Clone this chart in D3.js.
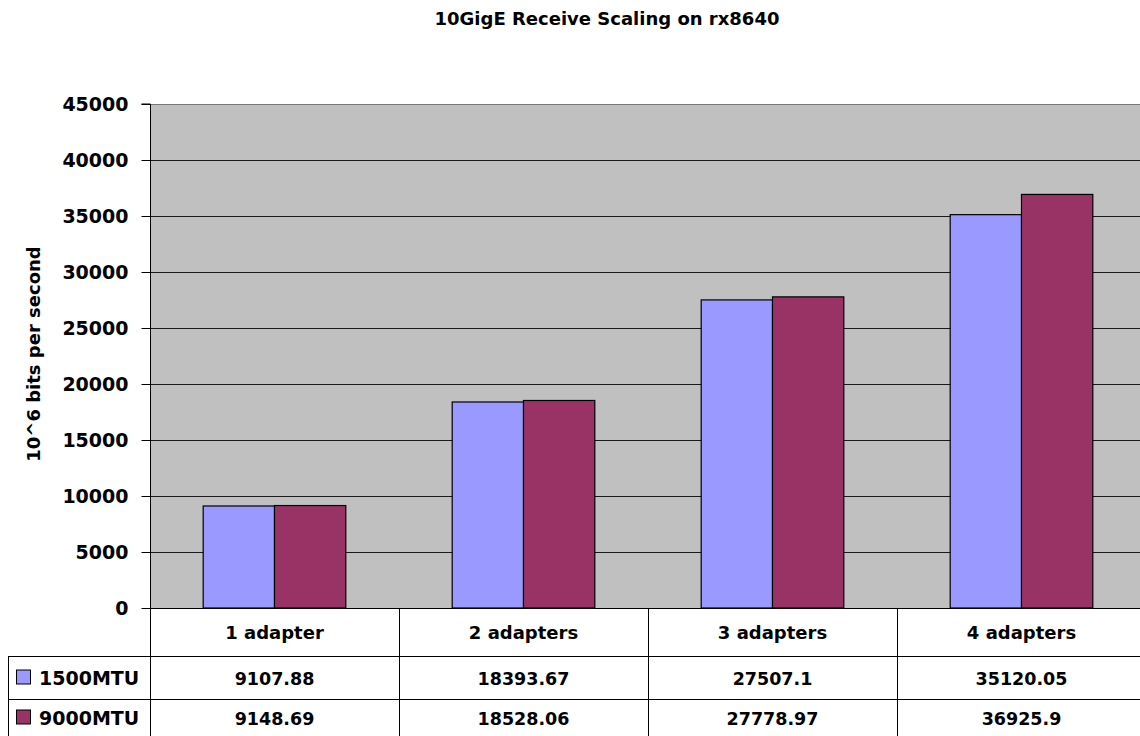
<!DOCTYPE html>
<html>
<head>
<meta charset="utf-8">
<script src="https://cdn.jsdelivr.net/npm/d3@7"></script>
<style>
  html, body { margin: 0; padding: 0; background: #fff; overflow: hidden; }
  svg { display: block; }
  text { font-family: "DejaVu Sans", sans-serif; font-weight: bold; fill: #000; }
</style>
</head>
<body>
<svg id="chart" width="1140" height="736"></svg>
<script>
const title = "10GigE Receive Scaling on rx8640";
const yAxisTitle = "10^6 bits per second";
const categories = ["1 adapter", "2 adapters", "3 adapters", "4 adapters"];
const seriesNames = ["1500MTU", "9000MTU"];
const mtu1500 = [9107.88, 18393.67, 27507.1, 35120.05];
const mtu9000 = [9148.69, 18528.06, 27778.97, 36925.9];
const valueLabels1500 = ["9107.88", "18393.67", "27507.1", "35120.05"];
const valueLabels9000 = ["9148.69", "18528.06", "27778.97", "36925.9"];
const yTicks = [0, 5000, 10000, 15000, 20000, 25000, 30000, 35000, 40000, 45000];
const seriesColors = ["#9999FF", "#993366"];

const svg = d3.select("#chart");
const W = 1140, H = 736;
// the plot runs a little past the right edge of the canvas
const plot = { left: 150, right: 1146, top: 104, bottom: 608 };
const FONT = "\"DejaVu Sans\", sans-serif";

const x = d3.scaleBand().domain(categories).range([plot.left, plot.right]);
const xs = d3.scaleBand().domain(seriesNames).range([0, x.bandwidth()]).paddingOuter(0.746).paddingInner(0);
const y = d3.scaleLinear().domain([0, 45000]).range([plot.bottom, plot.top]);

// Title
svg.append("text").attr("x", 607).attr("y", 25).attr("text-anchor", "middle")
  .style("font-size", "18px").text(title);

// Plot background
svg.append("rect").attr("x", plot.left).attr("y", plot.top)
  .attr("width", plot.right - plot.left).attr("height", plot.bottom - plot.top)
  .attr("fill", "#C0C0C0");

// Gridlines
svg.append("g").selectAll("line").data(yTicks.filter(d => d > 0)).join("line")
  .attr("x1", plot.left).attr("x2", plot.right)
  .attr("y1", d => Math.round(y(d)) + 0.5).attr("y2", d => Math.round(y(d)) + 0.5)
  .attr("stroke", d => d === 45000 ? "#777" : "#1a1a1a").attr("stroke-width", 1);

// Y axis
const yAxis = d3.axisLeft(y).tickValues(yTicks).tickSize(9).tickPadding(13).tickFormat(d3.format("d"));
const gy = svg.append("g").attr("transform", `translate(${plot.left + 0.5},0)`).call(yAxis);
gy.select(".domain").attr("stroke", "#000").attr("d", `M-9,${plot.top}H0V${plot.bottom}`);
gy.selectAll(".tick line").attr("stroke", "#000");
gy.selectAll(".tick text").style("font-size", "19px").style("font-family", FONT)
  .style("font-weight", "bold").attr("fill", "#000").attr("dy", "0.36em");

// Bars
const series = [mtu1500, mtu9000];
series.forEach((vals, si) => {
  svg.append("g").selectAll("rect").data(categories).join("rect")
    .attr("x", (c) => x(c) + xs(seriesNames[si]))
    .attr("y", (c, i) => y(vals[i]))
    .attr("width", xs.bandwidth())
    .attr("height", (c, i) => y(0) - y(vals[i]))
    .attr("fill", seriesColors[si])
    .attr("stroke", "#000").attr("stroke-width", 1.2);
});

// Axis title
svg.append("text").attr("transform", `translate(40,354) rotate(-90)`)
  .attr("text-anchor", "middle").style("font-size", "18px").text(yAxisTitle);

// Data table
const rowTops = [608, 656, 699, 736];
const tableLeft = 8;
const g = svg.append("g");
g.append("line").attr("x1", plot.left).attr("x2", plot.right).attr("y1", plot.bottom + 0.5).attr("y2", plot.bottom + 0.5).attr("stroke", "#000");
[rowTops[1], rowTops[2]].forEach(yy => {
  g.append("line").attr("x1", tableLeft).attr("x2", plot.right).attr("y1", yy + 0.5).attr("y2", yy + 0.5).attr("stroke", "#000");
});
g.append("line").attr("x1", tableLeft + 0.5).attr("x2", tableLeft + 0.5).attr("y1", rowTops[1]).attr("y2", H).attr("stroke", "#000");
categories.forEach(c => {
  const xx = Math.round(x(c)) + 0.5;
  g.append("line").attr("x1", xx).attr("x2", xx).attr("y1", plot.bottom).attr("y2", H).attr("stroke", "#000");
});
g.selectAll("text.cat").data(categories).join("text").attr("class", "cat")
  .attr("x", c => x(c) + x.bandwidth() / 2).attr("y", 639)
  .attr("text-anchor", "middle").style("font-size", "18px").text(c => c);
[valueLabels1500, valueLabels9000].forEach((labels, si) => {
  const cy = (rowTops[si + 1] + rowTops[si + 2]) / 2 + 7;
  g.selectAll(null).data(categories).join("text")
    .attr("x", c => x(c) + x.bandwidth() / 2).attr("y", cy)
    .attr("text-anchor", "middle").style("font-size", "17.5px").text((c, i) => labels[i]);
  g.append("rect").attr("x", 16.5).attr("y", cy - 14.5).attr("width", 14).attr("height", 14)
    .attr("fill", seriesColors[si]).attr("stroke", "#000").attr("stroke-width", 1);
  g.append("text").attr("x", 39).attr("y", cy).style("font-size", "19px").text(seriesNames[si]);
});
</script>
</body>
</html>
